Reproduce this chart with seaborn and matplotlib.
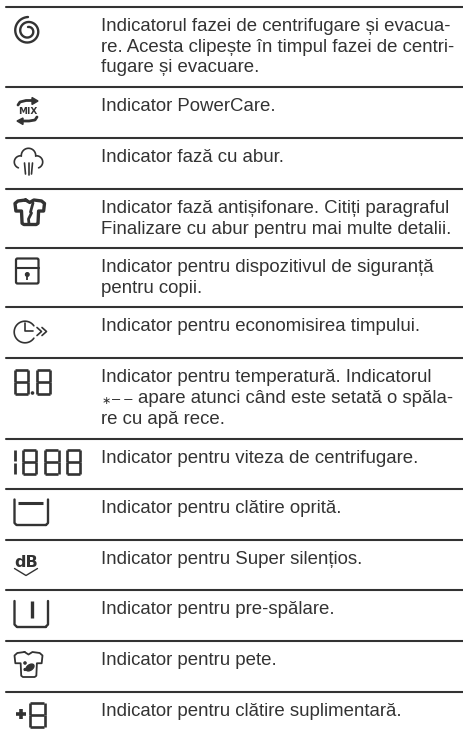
import numpy as np
import pandas as pd
import matplotlib
matplotlib.use("Agg")
import matplotlib.pyplot as plt
from matplotlib.patches import Circle, FancyBboxPatch, Polygon, Ellipse
import seaborn as sns

row_texts = [
    ["Indicatorul fazei de centrifugare și evacua-", "re. Acesta clipește în timpul fazei de centri-", "fugare și evacuare."],
    ["Indicator PowerCare."],
    ["Indicator fază cu abur."],
    ["Indicator fază antișifonare. Citiți paragraful", "Finalizare cu abur pentru mai multe detalii."],
    ["Indicator pentru dispozitivul de siguranță", "pentru copii."],
    ["Indicator pentru economisirea timpului."],
    ["Indicator pentru temperatură. Indicatorul", "apare atunci când este setată o spăla-", "re cu apă rece."],
    ["Indicator pentru viteza de centrifugare."],
    ["Indicator pentru clătire oprită."],
    ["Indicator pentru Super silențios."],
    ["Indicator pentru pre-spălare."],
    ["Indicator pentru pete."],
    ["Indicator pentru clătire suplimentară."],
]
rule_rows = [6.5, 87, 138, 188.5, 248, 307, 358, 438.5, 489, 540, 590, 641, 692]
cold_star = "∗"
cold_dashes = "– –"

sns.set_theme(style="white")
plt.rcParams["font.family"] = ["Liberation Sans", "DejaVu Sans"]
INK = "#333333"
fig, ax = plt.subplots(figsize=(4.63, 7.38), dpi=100)
ax.set_position([0, 0, 1, 1])
ax.axis("off")

rules = pd.DataFrame(
    [{"rule": i, "x": xx, "y": y} for i, y in enumerate(rule_rows) for xx in (6, 463)]
)
sns.lineplot(data=rules, x="x", y="y", units="rule", estimator=None, color=INK,
             linewidth=1.5, legend=False, ax=ax)
ax.set_xlim(0, 463)
ax.set_ylim(738, 0)

for y0, lines in zip(rule_rows, row_texts):
    for k, s in enumerate(lines):
        x = 138 if s.startswith("apare") else 101
        ax.text(x, y0 + 24.2 + 20.8 * k, s, fontsize=13.45, color=INK, va="baseline", ha="left")
ax.text(101.5, 403.5, cold_star, fontsize=8, color=INK, va="baseline", ha="left")
ax.text(112, 403, cold_dashes, fontsize=10.5, color=INK, va="baseline", ha="left")


def line(xs, ys, lw=1.4, c=INK, cap="round"):
    ax.plot(xs, ys, color=c, lw=lw, solid_capstyle=cap, solid_joinstyle="round")


def digit(x, y, w, h, lw=1.9):
    g = 0.2
    m = y + h / 2
    for (a, b) in [((x + g, y), (x + w - g, y)), ((x + g, m), (x + w - g, m)), ((x + g, y + h), (x + w - g, y + h)),
                   ((x, y + g), (x, m - g)), ((x, m + g), (x, y + h - g)),
                   ((x + w, y + g), (x + w, m - g)), ((x + w, m + g), (x + w, y + h - g))]:
        line([a[0], b[0]], [a[1], b[1]], lw=lw, cap="butt")


# spiral
t = np.linspace(0, 4 * np.pi, 240)
r = 14.0 - 10.0 * (t / t.max())
line(28 - r * np.sin(t), 31 - r * np.cos(t), lw=1.7)

# MIX arrows
ax.text(27.5, 111, "MIX", fontsize=6.5, fontweight="bold", color=INK, ha="center", va="center",
        family="DejaVu Sans")
line([18, 20, 26, 33], [105, 102, 100.5, 100.5], lw=2.0)
ax.add_patch(Polygon([[32, 97.5], [38, 101], [32, 104.5]], color=INK))
line([37, 35, 29, 22], [117, 120, 121, 121], lw=2.0)
ax.add_patch(Polygon([[23, 118], [17, 121], [23, 124.5]], color=INK))

# steam cloud
cx = 28.5
t = np.linspace(np.pi * 0.97, 2.03 * np.pi, 40)
line(cx + 7.2 * np.cos(t), 155.5 + 7.2 * np.sin(t), lw=1.2)
t = np.linspace(np.radians(90), np.radians(250), 30)
line(20.5 + 6.2 * np.cos(t), 162 - 6.2 * np.sin(t), lw=1.2)
t = np.linspace(np.radians(-70), np.radians(90), 30)
line(36.5 + 6.2 * np.cos(t), 162 - 6.2 * np.sin(t), lw=1.2)
line([24.5, 25.5], [163, 174], lw=1.2)
line([28.5, 28.5], [163, 174.5], lw=1.2)
line([32.5, 31.5], [163, 174], lw=1.2)


def shirt(x, y, w, h, lw):
    """Short-sleeved shirt outline inside the box x,y,w,h."""
    px = np.array([0.36, 0.1, 0.0, 0.03, 0.22, 0.24, 0.3, 0.72, 0.78, 0.8, 0.97, 1.0, 0.9, 0.64, 0.5, 0.36])
    py = np.array([0.0, 0.04, 0.14, 0.45, 0.45, 0.95, 1.0, 1.0, 0.95, 0.45, 0.45, 0.14, 0.04, 0.0, 0.1, 0.0])
    line(x + w * px, y + h * py, lw=lw)


# anti-crease shirt
shirt(15, 200, 29.5, 24.5, 2.4)
line([33, 30.5, 31.5, 28.5, 29], [203, 212, 213, 219, 224], lw=2.0)

# child lock
ax.add_patch(FancyBboxPatch((16, 258.5), 22.5, 25, boxstyle="round,pad=0,rounding_size=1.5",
                            fc="none", ec=INK, lw=1.6))
line([16, 38.5], [267.5, 267.5], lw=1.5)
ax.add_patch(Circle((27.3, 274.5), 1.8, color=INK))
line([27.3, 27.3], [274.5, 279.5], lw=1.3, cap="butt")

# time saver
t = np.radians(np.linspace(35, 325, 80))
line(25 + 10.8 * np.cos(t), 332 - 10.8 * np.sin(t), lw=1.2)
line([25, 25, 33], [323, 331, 331], lw=1.2)
for dx in (0, 5):
    line([37 + dx, 41.5 + dx, 37 + dx], [327.5, 331.5, 335.5], lw=1.2)

# displays
digit(15, 369.5, 13, 24.5)
digit(37, 369.5, 13, 24.5)
ax.add_patch(Circle((32.5, 393), 1.1, color=INK))
line([15, 15], [449.5, 460.5], lw=2.0, cap="butt")
line([15, 15], [463, 474], lw=2.0, cap="butt")
for xd in (22.5, 45, 66.5):
    digit(xd, 450, 13.5, 24)


def tub(y):
    line([14.5, 14.5, 16.5], [y, y + 23.5, y + 25.5], lw=1.7)
    line([16.5, 46], [y + 25.5, y + 25.5], lw=1.7)
    line([46, 48, 48], [y + 25.5, y + 23.5, y], lw=1.7)


tub(499.5)
line([17.5, 43], [503, 503], lw=2.2, cap="butt")

# dB
ax.text(26, 567, "dB", fontsize=11.5, fontweight="bold", color=INK, ha="center", va="baseline",
        family="DejaVu Sans")
line([14.5, 26, 37.5], [568.5, 575.5, 568.5], lw=1.0)

tub(601)
line([32, 32], [601, 618], lw=2.4, cap="butt")

# stain shirt
shirt(14.5, 652, 28, 25, 1.3)
ax.add_patch(Ellipse((30, 667.5), 9, 5.5, angle=-35, color=INK))
ax.add_patch(Circle((25, 663), 1.1, color=INK))
ax.add_patch(Circle((25, 669.5), 0.9, color=INK))

# extra rinse
line([15.5, 25.5], [713.5, 713.5], lw=2.6, cap="butt")
line([20.5, 20.5], [708.5, 718.5], lw=2.6, cap="butt")
digit(30, 703, 14.5, 24)

fig.savefig("out.png", dpi=100, facecolor="white")
